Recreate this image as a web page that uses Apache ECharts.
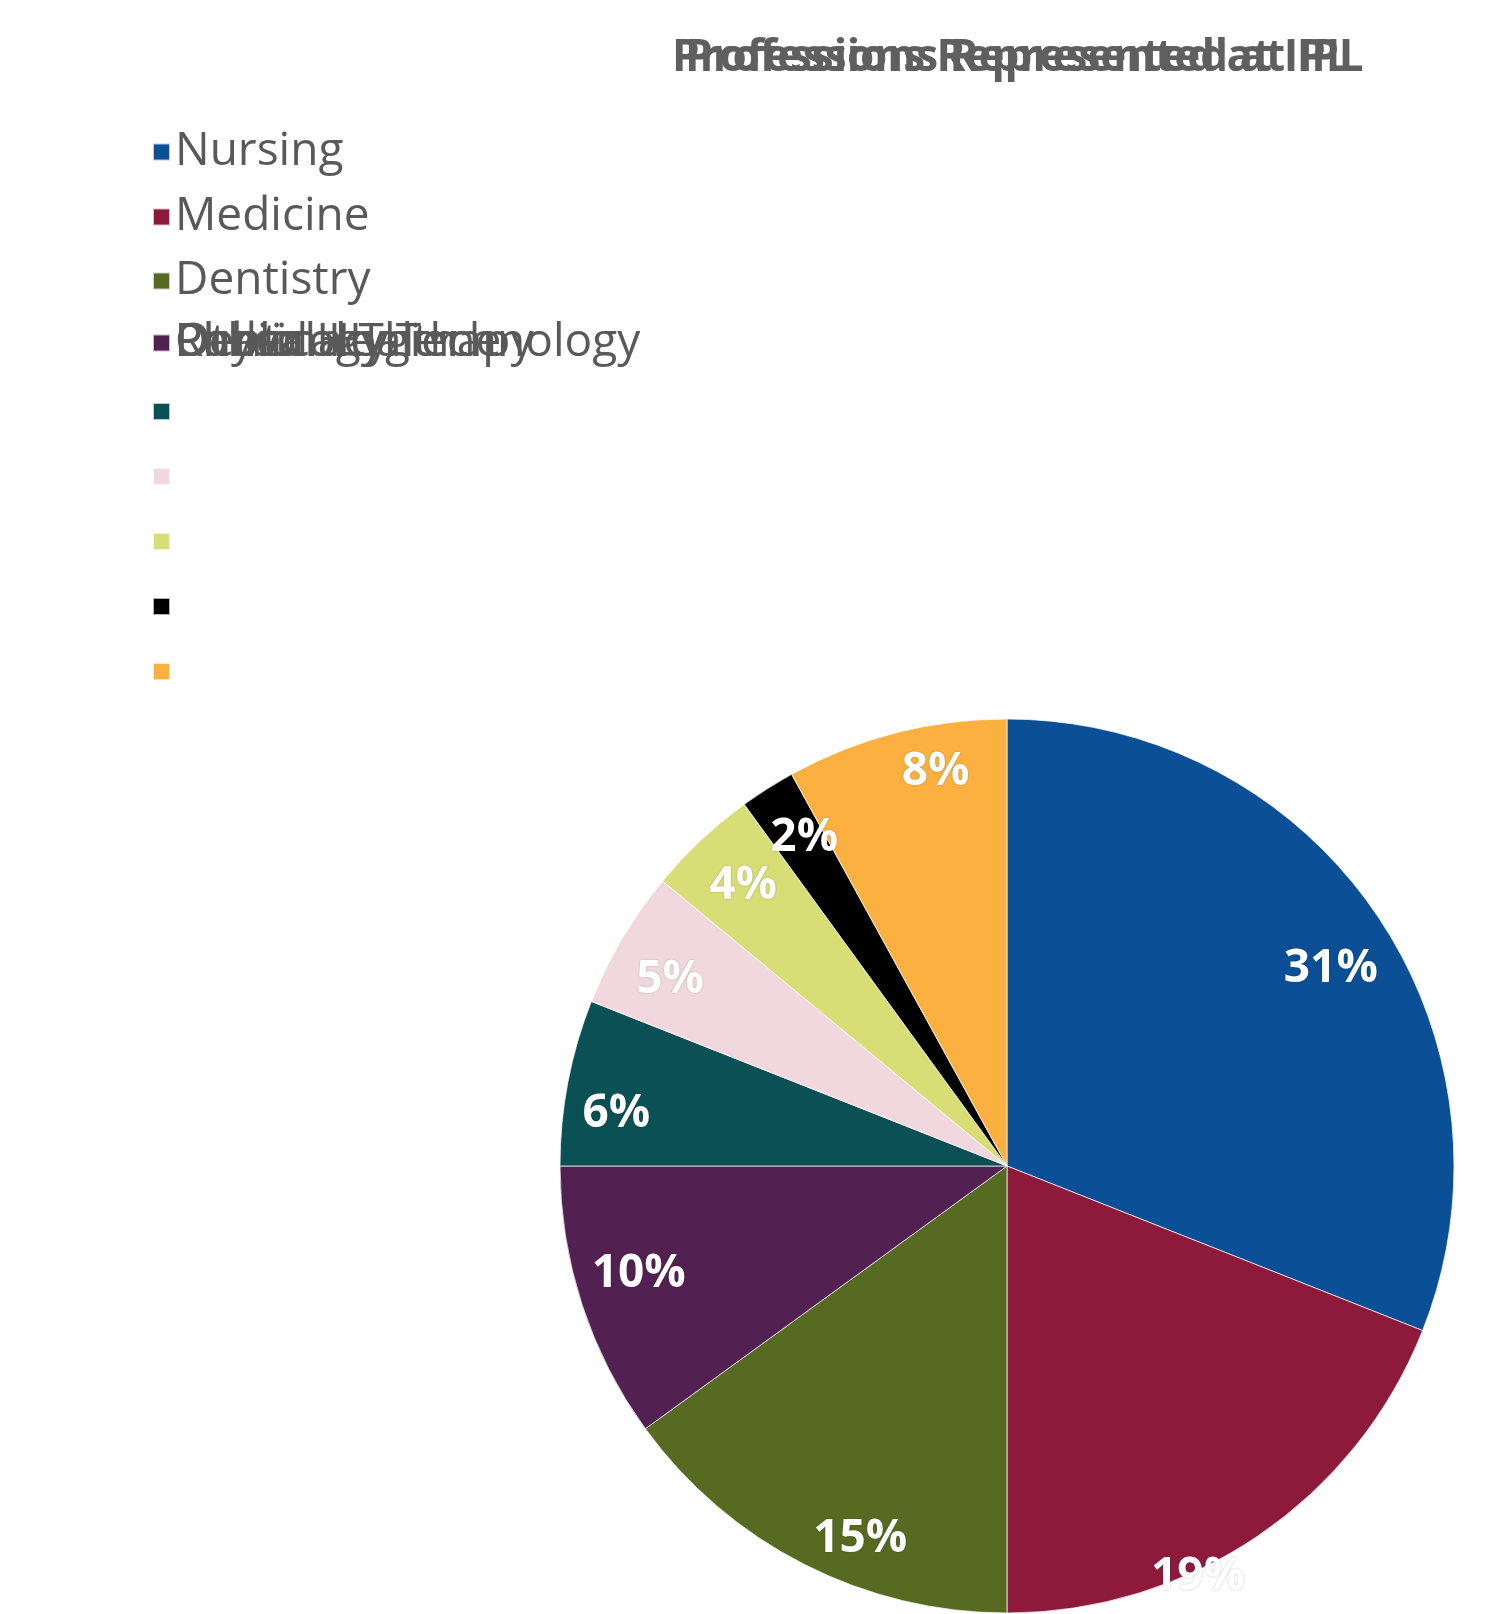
<!DOCTYPE html>
<html>
<head>
<meta charset="utf-8">
<script src="https://cdn.jsdelivr.net/npm/echarts@6/dist/echarts.min.js"></script>
<style>
html,body{margin:0;padding:0;background:#fff;}
#chart{width:1496px;height:1614px;}
</style>
</head>
<body>
<div id="chart"></div>
<script>
const titleText = 'Professions Represented at IPL';
const categories = ['Nursing','Medicine','Dentistry','Pharmacy','Public Health','Dental Hygiene','Physical Therapy','Other','Radiology Technology'];
const percents = [31, 19, 15, 10, 6, 5, 4, 2, 8];
const colors = ['#0b4f96','#8e1a3b','#566a22','#532052','#0b5054','#f1d8de','#d8dd76','#000000','#fbb040'];

const legendRowY = [152, 217, 281, 343, 343, 343, 343, 343, 343];
const markerRowY = [152, 217, 281, 343, 410, 475, 540, 605, 670];
// label nudges (styling only)
const labelOffsets = [[0, 23], [-29, 87], [31, 24], [4, -13], [-6, 21], [0, 13], [4, 5], [7, 2], [26, -15]];

const data = categories.map((c, i) => ({ name: c, value: percents[i], itemStyle: { color: colors[i] } }));

const legends = [];
const baseLegend = {
  orient: 'vertical', left: 152, itemWidth: 17, itemHeight: 17, itemGap: 0, padding: 0,
  icon: 'rect', selectedMode: false,
  textStyle: { fontSize: 46, color: '#595959', fontFamily: 'Open Sans' }
};
const overlapOrder = [4,5,6,7,8,3];
[0,1,2].forEach(i => {
  legends.push(Object.assign({}, baseLegend, { data: [categories[i]], top: legendRowY[i] - 23 }));
});
overlapOrder.forEach(i => {
  legends.push(Object.assign({}, baseLegend, { data: [{ name: categories[i], itemStyle: { color: colors[3] } }], top: legendRowY[i] - 23 }));
});
[4,5,6,7,8].forEach(i => {
  legends.push(Object.assign({}, baseLegend, { data: [categories[i]], top: markerRowY[i] - 8, formatter: () => '' }));
});

const labelData = categories.map((c, i) => ({
  name: c, value: percents[i], itemStyle: { color: 'rgba(0,0,0,0)' },
  label: { offset: labelOffsets[i] }
}));

const chart = echarts.init(document.getElementById('chart'), null, { renderer: 'canvas' });
chart.setOption({
  backgroundColor: '#ffffff',
  animation: false,
  title: [
    { text: titleText, left: 667, top: 31, textStyle: { fontSize: 44, fontWeight: 'bold', color: '#5f5f5f', fontFamily: 'Open Sans' } },
    { text: titleText, left: 680, top: 31, textStyle: { fontSize: 44, fontWeight: 'bold', color: '#5f5f5f', fontFamily: 'Open Sans' } }
  ],
  legend: legends,
  series: [
    {
      type: 'pie',
      center: [1007, 1166],
      radius: [0, 447],
      startAngle: 90,
      clockwise: true,
      silent: true,
      label: { show: false },
      labelLine: { show: false },
      itemStyle: { borderColor: 'rgba(255,255,255,0.7)', borderWidth: 1 },
      data: data
    },
    {
      type: 'pie',
      center: [1007, 1166],
      radius: [330, 447],
      startAngle: 90,
      clockwise: true,
      silent: true,
      legendHoverLink: false,
      label: {
        show: true, position: 'inside',
        formatter: p => p.value + '%',
        fontSize: 46, fontWeight: 'bold', color: '#ffffff', fontFamily: 'Open Sans',
        textShadowColor: 'rgba(0,0,0,0.25)', textShadowBlur: 2
      },
      labelLine: { show: false },
      data: labelData
    }
  ]
});
</script>
</body>
</html>
